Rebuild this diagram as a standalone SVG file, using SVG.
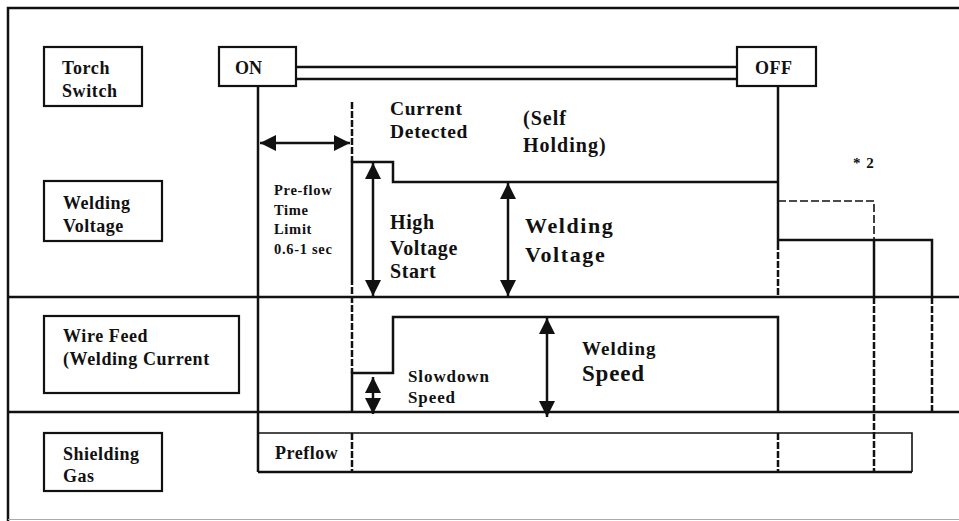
<svg xmlns="http://www.w3.org/2000/svg" width="959" height="521" viewBox="0 0 959 521">
<style>
text{font-weight:bold;fill:#111}
.box{fill:none;stroke:#111;stroke-width:2.2}
.ln{fill:none;stroke:#111;stroke-width:2.5}
.thin{fill:none;stroke:#111;stroke-width:1.6}
.dl{fill:none;stroke:#111;stroke-width:2.5;stroke-dasharray:7,2}
.dt{fill:none;stroke:#111;stroke-width:1.6;stroke-dasharray:8,3}
</style>
<defs>
<marker id="ah" viewBox="0 0 10 10" refX="10" refY="5" markerWidth="6.5" markerHeight="6.5" orient="auto-start-reverse" markerUnits="strokeWidth">
<path d="M0,0 L10,5 L0,10 z" fill="#111"/>
</marker>
</defs>
<rect width="959" height="521" fill="#fff"/>
<g id="frame">
<path class="ln" d="M8,521 V8 H959"/>
<line x1="8" y1="519.5" x2="959" y2="519.5" stroke="#aaa" stroke-width="1"/>
<line class="ln" x1="8" y1="297" x2="959" y2="297"/>
<line class="ln" x1="8" y1="412" x2="959" y2="412"/>
</g>
<g id="torch-switch"><rect class="box" x="44" y="47" width="98" height="59"/><text font-family="Liberation Serif" x="62" y="74" font-size="18" letter-spacing="0.6">Torch</text><text font-family="Liberation Serif" x="62" y="97" font-size="18" letter-spacing="0.6">Switch</text></g>
<g id="welding-voltage"><rect class="box" x="44" y="181" width="118" height="60"/><text font-family="Liberation Serif" x="63" y="209" font-size="18" letter-spacing="0.5">Welding</text><text font-family="Liberation Serif" x="63" y="232" font-size="18" letter-spacing="0.5">Voltage</text></g>
<g id="wire-feed"><rect class="box" x="44" y="316" width="195" height="77"/><text font-family="Liberation Serif" x="63" y="342" font-size="18" letter-spacing="0.6">Wire Feed</text><text font-family="Liberation Serif" x="63" y="365" font-size="18" letter-spacing="0.6">(Welding Current</text></g>
<g id="shielding-gas"><rect class="box" x="44" y="433" width="118" height="58"/><text font-family="Liberation Serif" x="63" y="460" font-size="18" letter-spacing="0.5">Shielding</text><text font-family="Liberation Serif" x="63" y="482" font-size="18" letter-spacing="0.5">Gas</text></g>
<g id="on"><rect class="box" x="219" y="47" width="77" height="39"/><text font-family="Liberation Serif" x="235" y="74" font-size="18">ON</text></g>
<g id="off"><rect class="box" x="737" y="47" width="79" height="39"/><text font-family="Liberation Serif" x="755" y="74" font-size="18" letter-spacing="0.5">OFF</text></g>
<g id="connectors">
<line class="ln" x1="296" y1="67" x2="737" y2="67"/>
<line class="ln" x1="296" y1="79" x2="737" y2="79"/>
<line class="ln" x1="258" y1="86" x2="258" y2="472"/>
<line class="ln" x1="778" y1="86" x2="778" y2="243"/>
<line class="dl" x1="778" y1="243" x2="778" y2="297"/>
<line class="dl" x1="778" y1="433" x2="778" y2="472"/>
<line class="dl" x1="352" y1="102" x2="352" y2="162"/>
<path class="ln" d="M352,278 V162 H393 V182 H778"/>
<line class="dl" x1="352" y1="278" x2="352" y2="373"/>
<path class="ln" d="M352,412 V373 H393 V317 H778 V412"/>
<line class="dl" x1="352" y1="433" x2="352" y2="472"/>
<path class="dt" d="M778,201 H874 V240"/>
<line class="ln" x1="874" y1="240" x2="874" y2="297"/>
<line class="dl" x1="874" y1="297" x2="874" y2="472"/>
<path class="ln" d="M778,240 H932 V297"/>
<line class="dl" x1="932" y1="297" x2="932" y2="412"/>
<path class="thin" d="M258,433 H912 V472"/>
<line class="ln" x1="258" y1="472" x2="912" y2="472"/>
<line class="ln" x1="260" y1="143" x2="350" y2="143" marker-start="url(#ah)" marker-end="url(#ah)"/>
<line class="ln" x1="373" y1="163" x2="373" y2="296" marker-start="url(#ah)" marker-end="url(#ah)"/>
<line class="ln" x1="508" y1="183" x2="508" y2="296" marker-start="url(#ah)" marker-end="url(#ah)"/>
<line class="ln" x1="373" y1="377" x2="373" y2="414" marker-start="url(#ah)" marker-end="url(#ah)"/>
<line class="ln" x1="547" y1="318" x2="547" y2="417" marker-start="url(#ah)" marker-end="url(#ah)"/>
</g>
<g id="labels">
<text font-family="Liberation Serif" x="274" y="195" font-size="14.5" letter-spacing="0.7">Pre-flow</text>
<text font-family="Liberation Serif" x="274" y="215" font-size="14.5" letter-spacing="0.7">Time</text>
<text font-family="Liberation Serif" x="274" y="234" font-size="14.5" letter-spacing="0.7">Limit</text>
<text font-family="Liberation Serif" x="274" y="254" font-size="14.5" letter-spacing="0.7">0.6-1 sec</text>
<text font-family="Liberation Serif" x="390" y="115" font-size="19.5" letter-spacing="0.7">Current</text>
<text font-family="Liberation Serif" x="390" y="138" font-size="19.5" letter-spacing="0.7">Detected</text>
<text font-family="Liberation Serif" x="523" y="125" font-size="20" letter-spacing="1">(Self</text>
<text font-family="Liberation Serif" x="523" y="152" font-size="20" letter-spacing="1">Holding)</text>
<text font-family="Liberation Serif" x="853" y="168" font-size="15" letter-spacing="1">* 2</text>
<text font-family="Liberation Serif" x="390" y="229" font-size="20" letter-spacing="0.6">High</text>
<text font-family="Liberation Serif" x="390" y="255" font-size="20" letter-spacing="0.6">Voltage</text>
<text font-family="Liberation Serif" x="390" y="278" font-size="20" letter-spacing="0.6">Start</text>
<text font-family="Liberation Serif" x="525" y="233" font-size="22" letter-spacing="1.6" fill="#222">Welding</text>
<text font-family="Liberation Serif" x="525" y="262" font-size="22" letter-spacing="1.6" fill="#222">Voltage</text>
<text font-family="Liberation Serif" x="408" y="382" font-size="17" letter-spacing="0.9">Slowdown</text>
<text font-family="Liberation Serif" x="408" y="403" font-size="17" letter-spacing="0.9">Speed</text>
<text font-family="Liberation Serif" x="582" y="355" font-size="19" letter-spacing="1">Welding</text>
<text font-family="Liberation Serif" x="582" y="381" font-size="23" letter-spacing="0.8" fill="#222">Speed</text>
<text font-family="Liberation Serif" x="275" y="459" font-size="18" letter-spacing="0.5">Preflow</text>
</g>
</svg>
